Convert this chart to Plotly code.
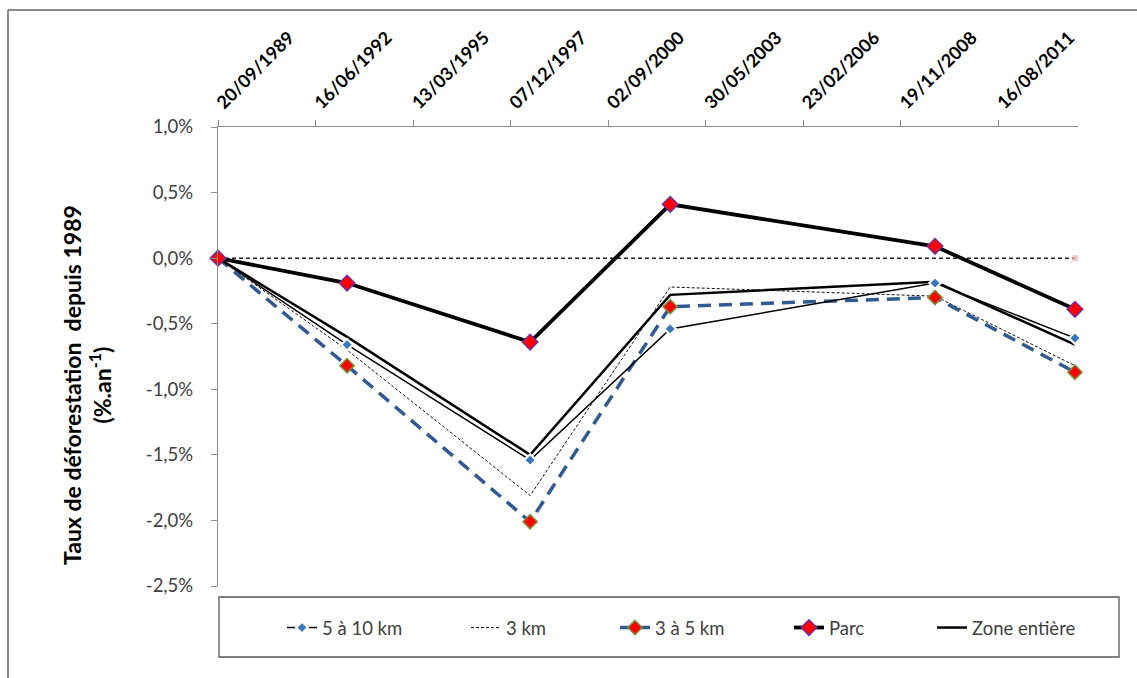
import plotly.graph_objects as go

# ---------------- data ----------------
dates = ["1989-09-20", "1993-05-05", "1998-06-25", "2002-05-31", "2009-11-05", "2013-10-10"]
series_names = ["5 à 10 km", "3 km", "3 à 5 km", "Parc", "Zone entière"]
v_5_10 = [0.0, -0.66, -1.54, -0.54, -0.19, -0.61]
v_3 = [0.0, -0.70, -1.81, -0.22, -0.29, -0.82]
v_3_5 = [0.0, -0.82, -2.01, -0.37, -0.30, -0.87]
v_parc = [0.0, -0.19, -0.64, 0.41, 0.09, -0.39]
v_zone = [0.0, -0.60, -1.50, -0.28, -0.18, -0.66]
v_ref = [0.0, 0.0, 0.0, 0.0, 0.0, 0.0]

x_tick_vals = ["1989-09-20", "1992-06-16", "1995-03-13", "1997-12-07", "2000-09-02",
               "2003-05-30", "2006-02-23", "2008-11-19", "2011-08-16"]
x_tick_text = ["20/09/1989", "16/06/1992", "13/03/1995", "07/12/1997", "02/09/2000",
               "30/05/2003", "23/02/2006", "19/11/2008", "16/08/2011"]
y_tick_vals = [1.0, 0.5, 0.0, -0.5, -1.0, -1.5, -2.0, -2.5]
y_tick_text = ["1,0%", "0,5%", "0,0%", "-0,5%", "-1,0%", "-1,5%", "-2,0%", "-2,5%"]
x_range = ["1989-09-20", "2013-11-10"]
y_range = [-2.5, 1.0]

# ---------------- layout geometry ----------------
W, H = 1137, 678
L, R, T, B = 218, 1078, 127, 586


def px(x):
    return (x - L) / (R - L)


def py(y):
    return (B - y) / (B - T)


FONT = "Lato"
fig = go.Figure()

fig.add_trace(go.Scatter(
    x=dates, y=v_ref, mode="lines+markers", showlegend=False, cliponaxis=False,
    line=dict(color="#222222", width=1.5, dash="4px,3px"),
    marker=dict(size=[0, 0, 0, 0, 0, 6], color="#f2b0b0", symbol="square", line=dict(width=0)),
))
fig.add_trace(go.Scatter(
    x=dates, y=v_3, name=series_names[1], mode="lines", cliponaxis=False, legend="legend2",
    line=dict(color="#111111", width=1, dash="3px,2px"),
))
fig.add_trace(go.Scatter(
    x=dates, y=v_3_5, name=series_names[2], mode="lines+markers", cliponaxis=False, legend="legend3",
    line=dict(color="#2F5A92", width=3.5, dash="13px,8px"),
    marker=dict(symbol="diamond", size=11, color="#FF0000", line=dict(color="#77933C", width=1.5)),
))
fig.add_trace(go.Scatter(
    x=dates, y=v_zone, name=series_names[4], mode="lines", cliponaxis=False, legend="legend5",
    line=dict(color="#000000", width=2.5),
))
fig.add_trace(go.Scatter(
    x=dates, y=v_5_10, name=series_names[0], mode="lines+markers", cliponaxis=False, legend="legend",
    line=dict(color="#000000", width=1.5),
    marker=dict(symbol="diamond", size=9, color="#3A78BE", line=dict(color="#FFFFFF", width=2)),
))
fig.add_trace(go.Scatter(
    x=dates, y=v_parc, name=series_names[3], mode="lines+markers", cliponaxis=False, legend="legend4",
    line=dict(color="#000000", width=3.8),
    marker=dict(symbol="diamond", size=12, color="#FF0000", line=dict(color="#7030A0", width=1.5)),
))

# legends positioned individually (text left edges from reference)
leg_text_x = [324, 508, 657, 831, 974]
legend_font = dict(family=FONT, size=18.5, color="#404040")
leg_common = dict(orientation="h", yanchor="middle", xanchor="left", y=py(628),
                  bgcolor="rgba(0,0,0,0)", borderwidth=0, font=legend_font)
legend_keys = ["legend", "legend2", "legend3", "legend4", "legend5"]
legends = {}
for k, tx in zip(legend_keys, leg_text_x):
    legends[k] = dict(x=px(tx - 42), **leg_common)

fig.update_layout(
    width=W, height=H, autosize=False,
    margin=dict(l=L, r=W - R, t=T, b=H - B),
    paper_bgcolor="white", plot_bgcolor="white",
    font=dict(family=FONT, color="#404040"),
    **legends,
    xaxis=dict(
        type="date", side="top", range=x_range,
        tickmode="array", tickvals=x_tick_vals, ticktext=x_tick_text, tickangle=-45,
        tickfont=dict(family=FONT, size=18, color="#000000", weight="bold"),
        showgrid=False, zeroline=False, showline=True, linecolor="#8C8C8C", linewidth=1.3,
        ticks="outside", ticklen=6, tickcolor="#8C8C8C",
    ),
    yaxis=dict(
        range=y_range, tickmode="array", tickvals=y_tick_vals, ticktext=y_tick_text,
        tickfont=dict(family=FONT, size=18.5, color="#404040"),
        showgrid=False, zeroline=False, showline=True, linecolor="#8C8C8C", linewidth=1.3,
        ticks="outside", ticklen=6, tickcolor="#8C8C8C", ticklabelstandoff=14,
    ),
    annotations=[dict(
        text="Taux de déforestation  depuis 1989<br>(%.an<sup>-1</sup>)",
        xref="paper", yref="paper", x=px(87), y=py(385), textangle=-90,
        showarrow=False, font=dict(family=FONT, size=23, color="#000000", weight="bold"),
        xanchor="center", yanchor="middle",
    )],
    shapes=[
        dict(type="rect", xref="paper", yref="paper", x0=px(219), x1=px(1119), y0=py(597), y1=py(657),
             line=dict(color="#555555", width=1.3), fillcolor="rgba(0,0,0,0)", layer="below"),
        dict(type="line", xref="paper", yref="paper", x0=px(8), x1=px(1140), y0=py(10), y1=py(10),
             line=dict(color="#8A8A8A", width=2)),
        dict(type="line", xref="paper", yref="paper", x0=px(8), x1=px(8), y0=py(10), y1=py(690),
             line=dict(color="#8A8A8A", width=2)),
    ],
)

fig.write_html("out.html", config={"displayModeBar": False},
               post_script="document.body.style.margin='0px';")
